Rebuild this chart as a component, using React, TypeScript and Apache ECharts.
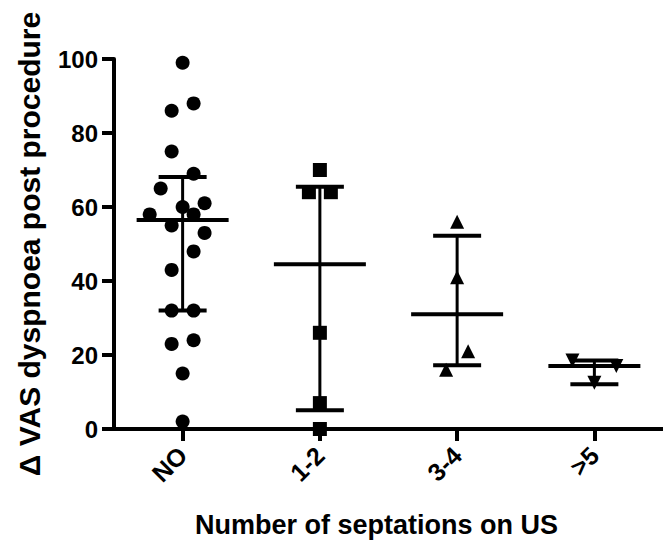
import React, { useEffect, useRef } from "react";
import * as echarts from "echarts";

const categories = ["NO", "1-2", "3-4", ">5"];
const yTickValues = [0, 20, 40, 60, 80, 100];

// Individual points: horizontal jitter (in category units) and values
const noOffsets = [0, 0.08, -0.08, -0.08, 0.08, -0.16, 0.16, 0, -0.24, 0.08, -0.08, 0.16, 0.08, -0.08, -0.08, 0.08, -0.08, 0.08, 0, 0];
const noValues = [99, 88, 86, 75, 69, 65, 61, 60, 58, 58, 55, 53, 48, 43, 32, 32, 23, 24, 15, 2];

const sep12Offsets = [0, -0.08, 0.08, 0, 0, 0];
const sep12Values = [70, 64, 64, 26, 7, 0];

const sep34Offsets = [0, 0, 0.08, -0.08];
const sep34Values = [56, 41, 21, 16];

const sep5Offsets = [-0.16, 0.16, 0];
const sep5Values = [18.5, 17, 12.5];

// Median and interquartile range per group
const medians = [56.5, 44.5, 31, 17];
const q1s = [32, 5.1, 17.2, 12.1];
const q3s = [68.1, 65.5, 52.2, 18.5];

const FONT = "'Liberation Sans', Arial, Helvetica, sans-serif";

function pts(groupIndex: number, offsets: number[], values: number[]) {
  return values.map((v, i) => [groupIndex + offsets[i], v]);
}

export default function App() {
  const ref = useRef<HTMLDivElement>(null);

  useEffect(() => {
    if (!ref.current) return;
    const chart = echarts.init(ref.current, undefined, { renderer: "svg" });

    const barData = categories.map((_, i) => [i, medians[i], q1s[i], q3s[i]]);

    const scatterBase = {
      type: "scatter",
      xAxisIndex: 1,
      yAxisIndex: 0,
      itemStyle: { color: "#000", opacity: 1 },
      symbolSize: 14,
      z: 3,
    };

    chart.setOption({
      animation: false,
      backgroundColor: "#fff",
      grid: { left: 114, top: 59, width: 554, height: 370 },
      xAxis: [
        {
          type: "category",
          data: categories,
          boundaryGap: true,
          axisLine: { show: true, lineStyle: { color: "#000", width: 4 } },
          axisTick: { show: true, alignWithLabel: true, length: 12, lineStyle: { color: "#000", width: 4 } },
          axisLabel: {
            rotate: 45,
            margin: 22,
            color: "#000",
            fontSize: 25,
            fontWeight: "bold",
            fontFamily: FONT,
          },
          splitLine: { show: false },
          name: "Number of septations on US",
          nameLocation: "middle",
          nameGap: 82,
          nameTextStyle: {
            color: "#000",
            fontSize: 27,
            fontWeight: "bold",
            fontFamily: FONT,
            padding: [0, 24, 0, 0],
          },
        },
        {
          type: "value",
          min: -0.5,
          max: 3.5,
          show: false,
        },
      ],
      yAxis: {
        type: "value",
        min: 0,
        max: 100,
        interval: 20,
        axisLine: { show: true, onZero: false, lineStyle: { color: "#000", width: 4 } },
        axisTick: { show: true, length: 12, lineStyle: { color: "#000", width: 4 } },
        axisLabel: {
          color: "#000",
          fontSize: 24,
          fontWeight: "bold",
          fontFamily: FONT,
          margin: 16,
          customValues: yTickValues,
        },
        splitLine: { show: false },
        name: "Δ VAS dyspnoea post procedure",
        nameLocation: "middle",
        nameGap: 70,
        nameTextStyle: { color: "#000", fontSize: 30, fontWeight: "bold", fontFamily: FONT },
      },
      series: [
        { ...scatterBase, symbol: "circle", data: pts(0, noOffsets, noValues) },
        { ...scatterBase, symbol: "rect", data: pts(1, sep12Offsets, sep12Values) },
        { ...scatterBase, symbol: "triangle", data: pts(2, sep34Offsets, sep34Values) },
        { ...scatterBase, symbol: "triangle", symbolRotate: 180, data: pts(3, sep5Offsets, sep5Values) },
        {
          type: "custom",
          xAxisIndex: 1,
          yAxisIndex: 0,
          z: 4,
          data: barData,
          renderItem: (params: any, api: any) => {
            const x = api.value(0);
            const med = api.coord([x, api.value(1)]);
            const lo = api.coord([x, api.value(2)]);
            const hi = api.coord([x, api.value(3)]);
            const cx = med[0];
            const stroke = { stroke: "#000", lineWidth: 4 };
            return {
              type: "group",
              children: [
                { type: "line", shape: { x1: cx - 46, y1: med[1], x2: cx + 46, y2: med[1] }, style: stroke },
                { type: "line", shape: { x1: cx, y1: lo[1], x2: cx, y2: hi[1] }, style: { stroke: "#000", lineWidth: 3 } },
                { type: "line", shape: { x1: cx - 24, y1: lo[1], x2: cx + 24, y2: lo[1] }, style: stroke },
                { type: "line", shape: { x1: cx - 24, y1: hi[1], x2: cx + 24, y2: hi[1] }, style: stroke },
              ],
            };
          },
        },
      ],
    });

    return () => chart.dispose();
  }, []);

  return (
    <div
      ref={ref}
      style={{ position: "absolute", left: 0, top: 0, width: 663, height: 543, background: "#fff" }}
    />
  );
}
